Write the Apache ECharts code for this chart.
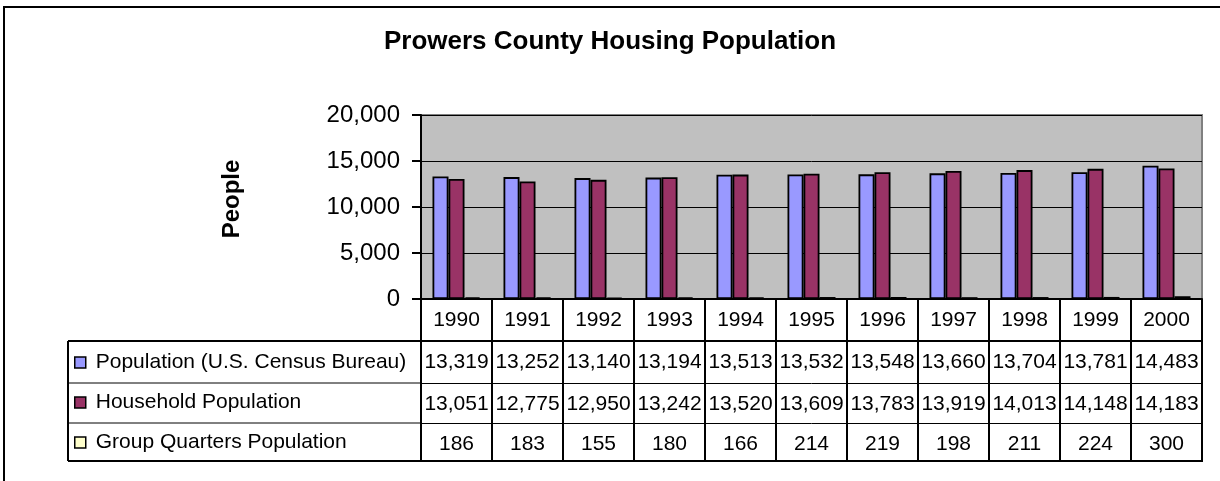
<!DOCTYPE html>
<html>
<head>
<meta charset="utf-8">
<title>Prowers County Housing Population</title>
<script src="https://cdn.jsdelivr.net/npm/echarts/dist/echarts.min.js"></script>
<style>
html, body { margin: 0; padding: 0; background: #fff; }
#chart { width: 1220px; height: 481px; }
</style>
</head>
<body>
<div id="chart"></div>
<script>
// data
var years = ['1990', '1991', '1992', '1993', '1994', '1995', '1996', '1997', '1998', '1999', '2000'];
var censusPop = [13319, 13252, 13140, 13194, 13513, 13532, 13548, 13660, 13704, 13781, 14483];
var householdPop = [13051, 12775, 12950, 13242, 13520, 13609, 13783, 13919, 14013, 14148, 14183];
var groupQuartersPop = [186, 183, 155, 180, 166, 214, 219, 198, 211, 224, 300];
var seriesNames = ['Population (U.S. Census Bureau)', 'Household Population', 'Group Quarters Population'];
var yMax = 20000;
var yStep = 5000;

var FONT = '"Liberation Sans", Arial, sans-serif';
var colors = ['#9999FF', '#993366', '#FFFFCC'];

// layout of plot + data table
var plotLeft = 421, plotRight = 1202, plotTop = 115, plotBottom = 299;
var tableLeft = 68;
var rowOffsets = [42, 84, 124, 162];   // row lines below the category axis

function fmt(v) {
	return v.toLocaleString('en-US');
}

// one table row = one extra category axis pushed down by offset
function tableAxis(offset, tickLen, lineWidth, values) {
	return {
		type: 'category',
		data: years,
		position: 'bottom',
		offset: offset,
		axisLine: {lineStyle: {color: '#000', width: lineWidth}},
		axisTick: {show: true, interval: 0, length: tickLen, lineStyle: {color: '#000', width: 2}},
		axisLabel: {
			interval: 0,
			margin: 11,
			color: '#000',
			fontSize: 21,
			fontFamily: FONT,
			formatter: function (v, i) { return values ? fmt(values[i]) : v; }
		},
		splitLine: {show: false}
	};
}

function hline(y, x1, x2, w) {
	return {type: 'line', shape: {x1: x1, y1: y, x2: x2, y2: y}, style: {stroke: '#000', lineWidth: w}, z: 100};
}

var barStyle = {borderColor: '#000', borderWidth: 1.8};

var option = {
	animation: false,
	backgroundColor: '#fff',
	title: {
		text: 'Prowers County Housing Population',
		left: 'center',
		top: 29,
		padding: 0,
		textStyle: {fontFamily: FONT, fontSize: 26, fontWeight: 'bold', color: '#000'}
	},
	legend: {
		orient: 'vertical',
		left: 74,
		top: 352,
		padding: 0,
		itemGap: 19,
		itemWidth: 11,
		itemHeight: 11,
		icon: 'rect',
		itemStyle: {borderColor: '#000', borderWidth: 1.5},
		textStyle: {fontFamily: FONT, fontSize: 21, lineHeight: 21, color: '#000', padding: [0, 0, 0, 5]},
		data: seriesNames
	},
	grid: {
		left: plotLeft,
		right: 1220 - plotRight,
		top: plotTop,
		bottom: 481 - plotBottom,
		show: true,
		backgroundColor: '#C0C0C0',
		borderColor: '#808080',
		borderWidth: 2
	},
	xAxis: [
		tableAxis(0, rowOffsets[0], 2, null),
		tableAxis(rowOffsets[0], rowOffsets[1] - rowOffsets[0], 2, censusPop),
		tableAxis(rowOffsets[1], rowOffsets[2] - rowOffsets[1], 1, householdPop),
		tableAxis(rowOffsets[2], rowOffsets[3] - rowOffsets[2], 1, groupQuartersPop)
	],
	yAxis: {
		type: 'value',
		min: 0,
		max: yMax,
		interval: yStep,
		name: 'People',
		nameLocation: 'middle',
		nameRotate: 90,
		nameGap: 177,
		nameTextStyle: {fontFamily: FONT, fontSize: 24, fontWeight: 'bold', color: '#000', padding: [0, 0, 0, 16]},
		axisLine: {show: true, lineStyle: {color: '#000', width: 2}},
		axisTick: {show: true, length: 9, lineStyle: {color: '#000', width: 2}},
		axisLabel: {
			margin: 21,
			color: '#000',
			fontSize: 24,
			fontFamily: FONT,
			formatter: function (v) { return fmt(v); }
		},
		splitLine: {show: true, lineStyle: {color: '#000', width: 1}}
	},
	series: [
		{name: seriesNames[0], type: 'bar', data: censusPop, barWidth: 16, barGap: '0%', itemStyle: Object.assign({color: colors[0]}, barStyle)},
		{name: seriesNames[1], type: 'bar', data: householdPop, barWidth: 16, barGap: '0%', itemStyle: Object.assign({color: colors[1]}, barStyle)},
		{name: seriesNames[2], type: 'bar', data: groupQuartersPop, barWidth: 16, barGap: '0%', itemStyle: Object.assign({color: colors[2]}, barStyle)}
	],
	graphic: [
		// outer chart border (runs off the right and bottom)
		{type: 'rect', shape: {x: 4, y: 7, width: 1400, height: 600}, style: {fill: null, stroke: '#000', lineWidth: 2}, z: 100},
		// legend column of the data table
		hline(plotBottom + rowOffsets[0], tableLeft, plotLeft, 2),
		hline(plotBottom + rowOffsets[1], tableLeft, plotLeft, 1),
		hline(plotBottom + rowOffsets[2], tableLeft, plotLeft, 1),
		hline(plotBottom + rowOffsets[3], tableLeft, plotRight + 1, 2),
		{type: 'line', shape: {x1: tableLeft, y1: plotBottom + rowOffsets[0], x2: tableLeft, y2: plotBottom + rowOffsets[3]}, style: {stroke: '#000', lineWidth: 2}, z: 100}
	]
};

var myChart = echarts.init(document.getElementById('chart'));
myChart.setOption(option);
</script>
</body>
</html>
